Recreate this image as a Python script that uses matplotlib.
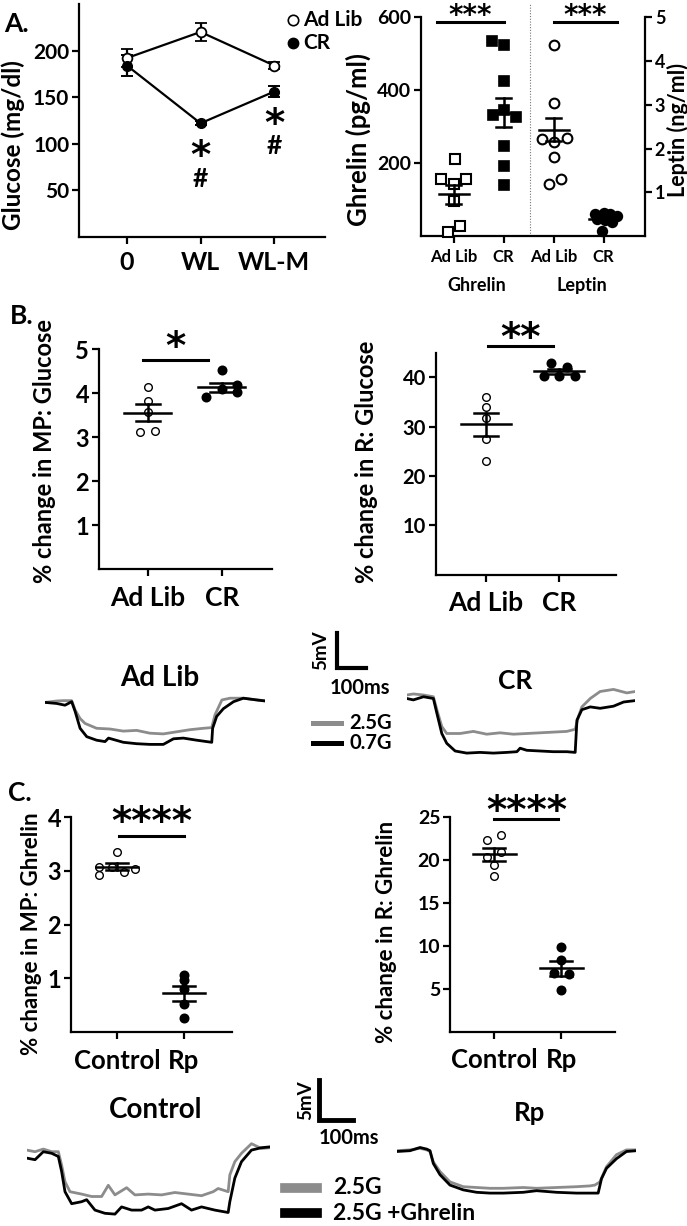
import numpy as np
import matplotlib
matplotlib.use("Agg")
import matplotlib.pyplot as plt

plt.rcParams["font.family"] = ["Lato", "DejaVu Sans"]
plt.rcParams["font.weight"] = "bold"

W, H = 687, 1226

# ---------------- data ----------------
# A. blood glucose over time
time_labels = ["0", "WL", "WL-M"]
glu_adlib = [192, 220, 184]
glu_adlib_err = [10, 10, 4]
glu_cr = [184, 122, 156]
glu_cr_err = [11, 2, 6]

# A. plasma hormones (dot plots)
hormone_ticks = ["Ad Lib", "CR", "Ad Lib", "CR"]
ghr_adlib = [212, 157, 143, 157, 97, 28, 12]
ghr_adlib_dx = [0.02, -0.25, 0.01, 0.25, 0.0, 0.13, -0.12]
ghr_cr = [536, 524, 426, 331, 345, 327, 246, 193, 139]
ghr_cr_dx = [-0.23, 0.01, 0.0, -0.21, 0.0, 0.25, 0.0, 0.0, 0.0]
lep_adlib = [4.37, 3.03, 2.21, 2.16, 2.24, 1.81, 1.31, 1.20]
lep_adlib_dx = [0.01, 0.01, -0.23, 0.01, 0.27, 0.01, 0.15, -0.1]
lep_cr = [0.51, 0.53, 0.51, 0.45, 0.39, 0.37, 0.32, 0.12]
lep_cr_dx = [-0.17, 0.0, 0.13, 0.27, -0.13, 0.03, 0.17, -0.03]
hormone_mean = [115, 338, 2.43, 0.40]
hormone_sem = [26, 40, 0.26, 0.05]

# B. glucose response
diet_labels = ["Ad Lib", "CR"]
mp_glu_adlib = [4.14, 3.83, 3.58, 3.11, 3.14]
mp_glu_adlib_dx = [0.0, 0.0, 0.0, -0.1, 0.1]
mp_glu_cr = [4.52, 3.92, 4.10, 4.19, 4.02]
mp_glu_cr_dx = [0.0, -0.21, 0.0, 0.21, 0.21]
mp_glu_mean = [3.56, 4.14]
mp_glu_sem = [0.2, 0.1]

r_glu_adlib = [36.0, 33.9, 31.8, 27.6, 23.0]
r_glu_adlib_dx = [0.0, 0.0, 0.0, 0.0, 0.0]
r_glu_cr = [42.9, 42.1, 40.3, 40.3, 40.3]
r_glu_cr_dx = [-0.11, 0.1, -0.21, 0.0, 0.21]
r_glu_mean = [30.5, 41.2]
r_glu_sem = [2.3, 0.45]

# C. ghrelin response
treat_labels = ["Control", "Rp"]
mp_ghr_ctrl = [3.36, 3.08, 3.08, 2.99, 3.03, 2.92]
mp_ghr_ctrl_dx = [0.0, -0.27, -0.07, 0.1, 0.27, -0.27]
mp_ghr_rp = [1.07, 0.96, 0.81, 0.53, 0.27]
mp_ghr_rp_dx = [0.0, 0.0, 0.0, 0.0, 0.0]
mp_ghr_mean = [3.08, 0.72]
mp_ghr_sem = [0.06, 0.14]

r_ghr_ctrl = [22.9, 22.4, 20.4, 21.0, 19.4, 18.2]
r_ghr_ctrl_dx = [0.1, -0.1, -0.1, 0.1, 0.0, 0.0]
r_ghr_rp = [9.87, 8.35, 6.87, 6.7, 4.85]
r_ghr_rp_dx = [0.0, 0.0, -0.11, 0.11, 0.0]
r_ghr_mean = [20.7, 7.38]
r_ghr_sem = [0.75, 0.85]

# voltage traces (time in ms, voltage in mV relative to baseline)
adlib_t_g = [0, 40, 63, 92, 104, 121, 138, 178, 224, 270, 316, 362, 408, 454, 500, 546, 575, 586, 610, 638, 684, 730, 759]
adlib_v_g = [-0.1, 0.1, 0.15, 0.15, -1.2, -2.4, -3.1, -3.8, -3.9, -4.2, -4.1, -4.5, -4.6, -4.3, -4.0, -3.8, -3.7, -1.9, 0.25, 0.5, 0.5, 0.25, 0.15]
adlib_t_k = [0, 40, 69, 92, 104, 121, 144, 178, 207, 219, 236, 270, 316, 362, 408, 443, 477, 523, 575, 578, 592, 615, 650, 684, 730, 759]
adlib_v_k = [-0.1, -0.25, -0.5, 0, -1.4, -3.8, -5.0, -5.5, -5.7, -5.2, -5.4, -5.8, -6.0, -6.1, -6.1, -5.3, -5.2, -5.5, -5.8, -3.8, -2.1, -1.0, 0, 0.5, 0.25, 0.1]

cr_t_g = [0, 23, 58, 92, 104, 121, 138, 184, 230, 276, 322, 368, 414, 460, 506, 552, 581, 592, 604, 633, 667, 713, 759, 788]
cr_v_g = [0, 0.15, 0, -0.25, -2.1, -4.5, -5.5, -5.5, -5.2, -5.6, -5.4, -5.6, -5.5, -5.4, -5.3, -5.2, -4.9, -3.1, -1.7, -0.5, 0.5, 0.8, 0.3, 0.5]
cr_t_k = [0, 23, 58, 92, 104, 121, 138, 167, 207, 253, 299, 345, 380, 391, 414, 460, 506, 552, 581, 587, 604, 633, 667, 713, 748, 788]
cr_v_k = [-0.5, -0.7, -0.25, -0.5, -2.6, -5.5, -6.9, -8.0, -8.3, -8.2, -8.3, -8.2, -8.1, -7.6, -7.9, -8.0, -8.1, -8.1, -8.2, -3.6, -2.1, -1.7, -1.9, -1.6, -1.0, -0.8]

ctrl_t_g = [0, 25, 50, 75, 95, 105, 115, 130, 165, 195, 225, 245, 265, 300, 325, 365, 405, 445, 485, 525, 560, 575, 605, 610, 625, 645, 675, 705, 730]
ctrl_v_g = [0.2, 0, 0.33, 0, 0, -1.7, -3.75, -5.0, -5.3, -5.6, -5.6, -4.2, -5.4, -4.5, -5.4, -5.3, -5.4, -5.1, -5.3, -5.5, -5.0, -4.6, -5.0, -2.9, -1.25, -0.2, 1.0, 0.4, 0.5]
ctrl_t_k = [0, 25, 50, 75, 95, 105, 115, 135, 165, 180, 205, 235, 265, 285, 315, 345, 365, 385, 425, 465, 495, 525, 565, 605, 610, 625, 645, 675, 705, 730]
ctrl_v_k = [-0.8, -1.0, 0, -0.2, -0.6, -2.5, -5.0, -6.5, -6.25, -6.0, -7.3, -7.7, -7.8, -6.9, -7.3, -7.3, -6.9, -7.3, -7.1, -6.5, -7.3, -6.9, -7.3, -7.6, -6.25, -3.3, -1.25, 0.2, 0.5, 0.6]

rp_t_g = [0, 40, 70, 90, 100, 110, 130, 160, 200, 240, 280, 320, 380, 420, 480, 540, 580, 595, 610, 630, 660, 690, 720]
rp_v_g = [0, 0.1, 0.3, 0.1, -0.1, -1.4, -2.6, -3.9, -4.5, -4.6, -4.7, -4.7, -4.6, -4.7, -4.6, -4.5, -4.4, -4.3, -3.9, -2.0, -0.5, 0.1, 0.1]
rp_t_k = [0, 40, 70, 90, 100, 110, 130, 160, 200, 240, 280, 320, 380, 420, 480, 540, 580, 605, 615, 630, 660, 690, 720]
rp_v_k = [-0.1, 0, 0.4, 0.2, 0, -1.6, -3.0, -4.3, -4.9, -5.2, -5.3, -5.3, -5.2, -5.0, -5.2, -5.3, -5.3, -5.3, -3.5, -2.2, -1.0, -0.1, 0]

GRAY = "#8c8c8c"


def fx(x):
    return x / W


def fy(y):
    return 1 - y / H


def px_axes(fig, left, top, right, bottom):
    return fig.add_axes([fx(left), fy(bottom), (right - left) / W, (bottom - top) / H])


def style_axes(ax, labelsize):
    for s in ["top", "right"]:
        ax.spines[s].set_visible(False)
    for s in ["left", "bottom"]:
        ax.spines[s].set_linewidth(1.6)
    ax.tick_params(width=1.6, length=5, labelsize=labelsize, pad=2)


def dot_column(ax, xc, vals, dx, marker, filled, ms, mean, sem, half_w, cap_w, mew=1.2):
    xs = xc + np.array(dx)
    ax.plot(xs, vals, ls="none", marker=marker, ms=ms, mfc="black" if filled else "white",
            mec="black", mew=mew, zorder=3, clip_on=False)
    ax.plot([xc - half_w, xc + half_w], [mean, mean], color="black", lw=1.8, zorder=4)
    ax.plot([xc, xc], [mean - sem, mean + sem], color="black", lw=1.8, zorder=4)
    for yy in (mean - sem, mean + sem):
        ax.plot([xc - cap_w, xc + cap_w], [yy, yy], color="black", lw=1.8, zorder=4)


def stars(ax, x, y, text, size):
    # asterisks sit high in the em box, shift them down so (x, y) is the visual centre
    ax.annotate(text, xy=(x, y), xytext=(0, -0.26 * size), textcoords="offset points",
                ha="center", va="center", fontsize=size, family="DejaVu Sans",
                fontweight="bold", annotation_clip=False)


def sig(ax, x0, x1, y, text, ty, size):
    ax.plot([x0, x1], [y, y], color="black", lw=2.2, clip_on=False)
    stars(ax, (x0 + x1) / 2, ty, text, size)


def trace_axes(fig, left, base_y, t_max, px_ms, px_mv, v_lo, v_hi):
    ax = fig.add_axes([fx(left), fy(base_y - v_lo * px_mv), t_max * px_ms / W, (v_hi - v_lo) * px_mv / H])
    ax.set_xlim(0, t_max)
    ax.set_ylim(v_lo, v_hi)
    ax.axis("off")
    return ax


def ftext(x, y, s, size, **kw):
    fig.text(fx(x), fy(y), s, fontsize=size, ha=kw.pop("ha", "center"), va=kw.pop("va", "center"), **kw)


fig = plt.figure(figsize=(W / 100, H / 100), dpi=100)

# ---------------- A left ----------------
ax = px_axes(fig, 79, 4, 325, 237)
x = np.arange(len(time_labels))
ax.errorbar(x, glu_adlib, yerr=glu_adlib_err, color="black", lw=1.6, marker="o", ms=7,
            mfc="white", mec="black", mew=1.3, capsize=4, capthick=1.4, zorder=3)
ax.errorbar(x, glu_cr, yerr=glu_cr_err, color="black", lw=1.6, marker="o", ms=7,
            mfc="black", mec="black", capsize=4, capthick=1.4, zorder=3)
ax.set_xlim(-0.65, 2.69)
ax.set_ylim(0, 250)
ax.set_yticks([50, 100, 150, 200])
ax.set_xticks(x)
ax.set_xticklabels(time_labels)
style_axes(ax, 15)
ax.tick_params(axis="x", labelsize=18, pad=5)
stars(ax, 1, 97, "*", 28)
ax.text(1, 62, "#", ha="center", va="center", fontsize=19)
stars(ax, 2, 131, "*", 28)
ax.text(2, 97.5, "#", ha="center", va="center", fontsize=19)
ax.plot([2.25], [233], marker="o", ms=7.5, mfc="white", mec="black", mew=1.2, clip_on=False)
ax.plot([2.25], [208], marker="o", ms=7.5, mfc="black", mec="black", clip_on=False)
ax.text(2.39, 233, "Ad Lib", ha="left", va="center", fontsize=15)
ax.text(2.39, 208, "CR", ha="left", va="center", fontsize=15)
ftext(16, 24, "A.", 19)
ftext(13, 145, "Glucose (mg/dl)", 17.5, rotation=90)

# ---------------- A right ----------------
ax = px_axes(fig, 421, 17.3, 645, 236)
ax2 = ax.twinx()
ax.set_xlim(-0.65, 3.83)
ax.set_ylim(0, 600)
ax2.set_ylim(0, 5)
dot_column(ax, 0, ghr_adlib, ghr_adlib_dx, "s", False, 6.5, hormone_mean[0], hormone_sem[0], 0.3, 0.15, 1.5)
dot_column(ax, 1, ghr_cr, ghr_cr_dx, "s", True, 6.5, hormone_mean[1], hormone_sem[1], 0.3, 0.15)
dot_column(ax2, 2, lep_adlib, lep_adlib_dx, "o", False, 7, hormone_mean[2], hormone_sem[2], 0.3, 0.15, 1.5)
dot_column(ax2, 3, lep_cr, lep_cr_dx, "o", True, 7, hormone_mean[3], hormone_sem[3], 0.3, 0.15)
ax.plot([1.52, 1.52], [0, 640], color="#777777", lw=0.8, ls=(0, (1, 1.5)), clip_on=False)
ax.set_xticks(range(4))
ax.set_xticklabels(hormone_ticks)
ax.set_yticks([200, 400, 600])
ax2.set_yticks([1, 2, 3, 4, 5])
style_axes(ax, 14)
ax.tick_params(axis="x", labelsize=12, pad=4)
for s in ["top", "left", "bottom"]:
    ax2.spines[s].set_visible(False)
ax2.spines["right"].set_linewidth(1.6)
ax2.tick_params(width=1.6, length=5, labelsize=13, pad=2)
sig(ax, -0.33, 1.0, 586, "***", 623.6, 20)
sig(ax, 2.0, 3.27, 586, "***", 623.6, 20)
ftext(476.7, 285, "Ghrelin", 13)
ftext(581.7, 285, "Leptin", 13)
ftext(358, 140, "Ghrelin (pg/ml)", 18.5, rotation=90)
ftext(678, 130, "Leptin (ng/ml)", 15.5, rotation=90)

# ---------------- B left ----------------
ax = px_axes(fig, 99, 349.3, 272, 569.3)
ax.set_xlim(-0.66, 1.68)
ax.set_ylim(0, 5)
dot_column(ax, 0, mp_glu_adlib, mp_glu_adlib_dx, "o", False, 5.5, mp_glu_mean[0], mp_glu_sem[0], 0.32, 0.16, 1.0)
dot_column(ax, 1, mp_glu_cr, mp_glu_cr_dx, "o", True, 6, mp_glu_mean[1], mp_glu_sem[1], 0.32, 0.16)
ax.set_xticks([0, 1])
ax.set_xticklabels(diet_labels)
ax.set_yticks([1, 2, 3, 4, 5])
style_axes(ax, 17)
ax.tick_params(axis="x", labelsize=19, pad=7)
sig(ax, -0.07, 0.81, 4.76, "*", 5.26, 28)
ftext(22, 316, "B.", 19)
ftext(45, 451, "% change in MP: Glucose", 17, rotation=90)

# ---------------- B right ----------------
ax = px_axes(fig, 435.7, 352.7, 615.6, 574.6)
ax.set_xlim(-0.69, 1.77)
ax.set_ylim(0, 45)
dot_column(ax, 0, r_glu_adlib, r_glu_adlib_dx, "o", False, 5.5, r_glu_mean[0], r_glu_sem[0], 0.34, 0.16, 1.0)
dot_column(ax, 1, r_glu_cr, r_glu_cr_dx, "o", True, 6, r_glu_mean[1], r_glu_sem[1], 0.34, 0.16)
ax.set_xticks([0, 1])
ax.set_xticklabels(diet_labels)
ax.set_yticks([10, 20, 30, 40])
style_axes(ax, 14.5)
ax.tick_params(axis="x", labelsize=19, pad=7)
sig(ax, 0.02, 0.91, 46.4, "**", 49.8, 28)
ftext(366, 462, "% change in R: Glucose", 17, rotation=90)

# ---------------- traces (glucose) ----------------
tax = trace_axes(fig, 45, 701.7, 759, 0.29, 7, -7, 2)
tax.plot(adlib_t_g, adlib_v_g, color=GRAY, lw=2)
tax.plot(adlib_t_k, adlib_v_k, color="black", lw=2)
tax = trace_axes(fig, 406.7, 695, 788, 0.29, 7, -9, 2)
tax.plot(cr_t_g, cr_v_g, color=GRAY, lw=2)
tax.plot(cr_t_k, cr_v_k, color="black", lw=2)
ftext(160, 678, "Ad Lib", 20)
ftext(515, 681, "CR", 19)

fig.add_artist(plt.Line2D([fx(337), fx(337), fx(366)], [fy(633), fy(668), fy(668)], color="black", lw=3, solid_joinstyle="miter"))
ftext(321, 650, "5mV", 13.5, rotation=90)
ftext(360, 688, "100ms", 14.5)
fig.add_artist(plt.Line2D([fx(313), fx(341)], [fy(723), fy(723)], color=GRAY, lw=3.6))
fig.add_artist(plt.Line2D([fx(313), fx(341)], [fy(743), fy(743)], color="black", lw=3.6))
ftext(349, 723, "2.5G", 14.5, ha="left")
ftext(349, 743, "0.7G", 14.5, ha="left")

# ---------------- C left ----------------
ax = px_axes(fig, 71, 817.3, 232, 1032)
ax.set_xlim(-0.69, 1.72)
ax.set_ylim(0, 4)
dot_column(ax, 0, mp_ghr_ctrl, mp_ghr_ctrl_dx, "o", False, 5.5, mp_ghr_mean[0], mp_ghr_sem[0], 0.32, 0.16, 1.0)
dot_column(ax, 1, mp_ghr_rp, mp_ghr_rp_dx, "o", True, 6, mp_ghr_mean[1], mp_ghr_sem[1], 0.32, 0.16)
ax.set_xticks([0, 1])
ax.set_xticklabels(treat_labels)
ax.set_yticks([1, 2, 3, 4])
style_axes(ax, 17)
ax.tick_params(axis="x", labelsize=18.5, pad=7)
sig(ax, 0.03, 1.0, 3.66, "****", 4.08, 28)
ftext(20, 793, "C.", 19)
ftext(32, 934, "% change in MP: Ghrelin", 16, rotation=90)

# ---------------- C right ----------------
ax = px_axes(fig, 450, 817.3, 614.7, 1031.5)
ax.set_xlim(-0.66, 1.8)
ax.set_ylim(0, 25)
dot_column(ax, 0, r_ghr_ctrl, r_ghr_ctrl_dx, "o", False, 5.5, r_ghr_mean[0], r_ghr_sem[0], 0.32, 0.16, 1.0)
dot_column(ax, 1, r_ghr_rp, r_ghr_rp_dx, "o", True, 6, r_ghr_mean[1], r_ghr_sem[1], 0.32, 0.16)
ax.set_xticks([0, 1])
ax.set_xticklabels(treat_labels)
ax.set_yticks([5, 10, 15, 20, 25])
style_axes(ax, 14)
ax.tick_params(axis="x", labelsize=18.5, pad=7)
sig(ax, 0.0, 0.96, 24.8, "****", 26.75, 28)
ftext(386, 932, "% change in R: Ghrelin", 16, rotation=90)

# ---------------- traces (ghrelin) ----------------
tax = trace_axes(fig, 26.7, 1151.7, 730, 0.333, 8, -8.5, 2)
tax.plot(ctrl_t_g, ctrl_v_g, color=GRAY, lw=2)
tax.plot(ctrl_t_k, ctrl_v_k, color="black", lw=2)
tax = trace_axes(fig, 396.7, 1150.7, 720, 0.333, 8, -6.5, 2)
tax.plot(rp_t_g, rp_v_g, color=GRAY, lw=2)
tax.plot(rp_t_k, rp_v_k, color="black", lw=2)
ftext(156, 1110, "Control", 20)
ftext(529, 1113, "Rp", 18.5)

fig.add_artist(plt.Line2D([fx(319), fx(319), fx(353)], [fy(1080), fy(1120), fy(1120)], color="black", lw=3.5, solid_joinstyle="miter"))
ftext(306, 1100, "5mV", 13.5, rotation=90)
ftext(349, 1138, "100ms", 14.5)
fig.add_artist(plt.Line2D([fx(285), fx(317)], [fy(1188), fy(1188)], color=GRAY, lw=7))
fig.add_artist(plt.Line2D([fx(285), fx(317)], [fy(1213), fy(1213)], color="black", lw=7))
ftext(333, 1188, "2.5G", 16.5, ha="left")
ftext(333, 1213, "2.5G +Ghrelin", 16.5, ha="left")

fig.savefig("out.png", dpi=100)
